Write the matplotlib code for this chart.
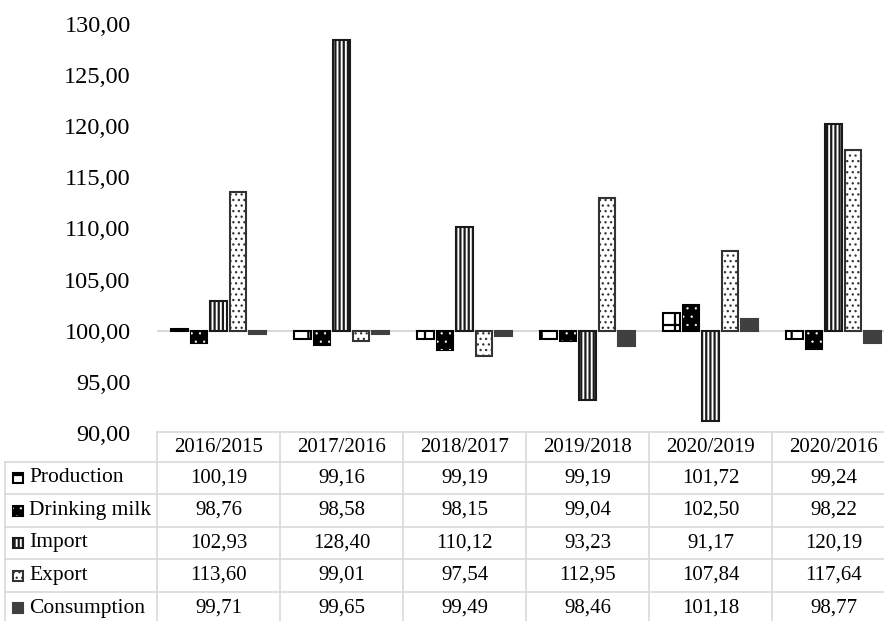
import numpy as np
import matplotlib
matplotlib.use("Agg")
import matplotlib.pyplot as plt
from matplotlib.patches import Rectangle
from matplotlib.ticker import FuncFormatter

plt.rcParams['font.family'] = ['Liberation Serif', 'DejaVu Serif']
plt.rcParams['hatch.linewidth'] = 1.6

periods = ['2016/2015', '2017/2016', '2018/2017', '2019/2018', '2020/2019', '2020/2016']
series = ['Production', 'Drinking milk', 'Import', 'Export', 'Consumption']
production = [100.19, 99.16, 99.19, 99.19, 101.72, 99.24]
drinking_milk = [98.76, 98.58, 98.15, 99.04, 102.50, 98.22]
imports = [102.93, 128.40, 110.12, 93.23, 91.17, 120.19]
exports = [113.60, 99.01, 97.54, 112.95, 107.84, 117.64]
consumption = [99.71, 99.65, 99.49, 98.46, 101.18, 98.77]
values = [production, drinking_milk, imports, exports, consumption]

base = 100.0
W, H = 884, 621

# style per series: face, edge, hatch (+ its line width), white overlay hatch
styles = [
    dict(face='white', edge='black', hatch='+', hlw=1.6, over=None),
    dict(face='black', edge='black', hatch=None, hlw=1.6, over='..'),
    dict(face='white', edge='#1a1a1a', hatch='||||', hlw=1.6, over=None),
    dict(face='white', edge='#333333', hatch='...', hlw=0.9, over=None),
    dict(face='#404040', edge='#404040', hatch=None, hlw=1.6, over=None),
]

fig = plt.figure(figsize=(W / 100, H / 100), dpi=100)
ax_left, ax_right, ax_top, ax_bot = 157, 895, 24, 433
ax = fig.add_axes([ax_left / W, 1 - ax_bot / H, (ax_right - ax_left) / W, (ax_bot - ax_top) / H])

x = np.arange(len(periods)) + 0.5
pitch, width = 0.158, 0.135
for j, (vals, st) in enumerate(zip(values, styles)):
    pos = x + (j - 2) * pitch
    heights = np.array(vals) - base
    with plt.rc_context({'hatch.linewidth': st['hlw']}):
        ax.bar(pos, heights, width=width, bottom=base, color=st['face'], edgecolor=st['edge'],
               hatch=st['hatch'], linewidth=1.5, zorder=3)
    if st['over']:
        with plt.rc_context({'hatch.linewidth': 0.4}):
            ax.bar(pos, heights, width=width, bottom=base, color='none', edgecolor='white',
                   hatch=st['over'], linewidth=0, zorder=4)

ax.axhline(base, color='#d9d9d9', lw=1.5, zorder=2)
ax.set_xlim(0, len(periods))
ax.set_ylim(90, 130)
ax.set_yticks(np.arange(90, 131, 5))
ax.yaxis.set_major_formatter(FuncFormatter(lambda v, p: f"{v:.2f}".replace('.', ',')))
ax.tick_params(axis='y', length=0, pad=19, labelsize=17.5)
ax.set_xticks([])
for s in ax.spines.values():
    s.set_visible(False)


# data table drawn in pixel coordinates
def fx(px):
    return px / W


def fy(py):
    return 1 - py / H


grid_c = '#d9d9d9'
col_w = 123
col_edges = [ax_left + col_w * k for k in range(len(periods) + 1)]
row_edges = [432, 462, 494, 527, 559, 592, 624]

fig.add_artist(plt.Line2D([fx(ax_left), fx(ax_right)], [fy(432), fy(432)], color=grid_c, lw=1.2))
for ry in row_edges[1:]:
    fig.add_artist(plt.Line2D([fx(5), fx(ax_right)], [fy(ry), fy(ry)], color=grid_c, lw=1.2))
for cx in col_edges:
    fig.add_artist(plt.Line2D([fx(cx), fx(cx)], [fy(432), fy(624)], color=grid_c, lw=1.2))
fig.add_artist(plt.Line2D([fx(5), fx(5)], [fy(462), fy(624)], color=grid_c, lw=1.2))

for k, p in enumerate(periods):
    cx = col_edges[k] + col_w / 2
    fig.text(fx(cx), fy((row_edges[0] + row_edges[1]) / 2), p, ha='center', va='center', fontsize=15)

for i, (name, vals, st) in enumerate(zip(series, values, styles)):
    cy = (row_edges[i + 1] + row_edges[i + 2]) / 2
    with plt.rc_context({'hatch.linewidth': st['hlw']}):
        fig.add_artist(Rectangle((fx(13), fy(cy + 5)), 10 / W, 10 / H, transform=fig.transFigure,
                                 facecolor=st['face'], edgecolor=st['edge'], hatch=st['hatch'], lw=1.5))
    if st['over']:
        with plt.rc_context({'hatch.linewidth': 0.4}):
            fig.add_artist(Rectangle((fx(13), fy(cy + 5)), 10 / W, 10 / H, transform=fig.transFigure,
                                     facecolor='none', edgecolor='white', hatch=st['over'], lw=0))
    fig.text(fx(29), fy(cy), name, ha='left', va='center', fontsize=15.5)
    for k, v in enumerate(vals):
        cx = col_edges[k] + col_w / 2
        fig.text(fx(cx), fy(cy), f"{v:.2f}".replace('.', ','), ha='center', va='center', fontsize=15)

fig.savefig("out.png", dpi=100)
